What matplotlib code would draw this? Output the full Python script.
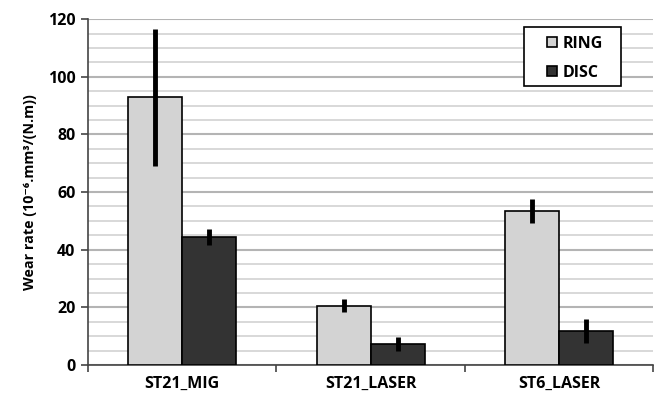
import matplotlib
matplotlib.use("Agg")
import matplotlib.pyplot as plt
import numpy as np
from matplotlib.ticker import MultipleLocator, FixedLocator
from matplotlib.patches import Rectangle

plt.rcParams['font.family'] = ['Open Sans', 'DejaVu Sans']
plt.rcParams['font.weight'] = 'bold'
WT = "bold"

categories = ["ST21_MIG", "ST21_LASER", "ST6_LASER"]
ring = [92.8, 20.6, 53.4]
ring_err = [23.9, 2.3, 4.1]
disc = [44.4, 7.2, 11.9]
disc_err = [2.9, 2.4, 4.2]

fig = plt.figure(figsize=(6.59, 3.98), dpi=100)
ax = fig.add_axes([0.1335, 0.083, 0.858, 0.869])

x = np.arange(len(categories))
w = 0.287
ax.bar(x - w / 2, ring, w, color="#d3d3d3", edgecolor="black", linewidth=1.2, label="RING", zorder=3)
ax.bar(x + w / 2, disc, w, color="#333333", edgecolor="black", linewidth=1.2, label="DISC", zorder=3)
ax.errorbar(x - w / 2, ring, yerr=ring_err, fmt="none", ecolor="black", elinewidth=3.5, capsize=0, zorder=4)
ax.errorbar(x + w / 2, disc, yerr=disc_err, fmt="none", ecolor="black", elinewidth=3.5, capsize=0, zorder=4)

ax.set_xlim(-0.5, 2.5)
ax.set_ylim(0, 120)
ax.yaxis.set_major_locator(MultipleLocator(20))
ax.yaxis.set_minor_locator(MultipleLocator(5))
ax.grid(axis="y", which="major", color="#b4b4b4", linewidth=1.5, zorder=0)
ax.grid(axis="y", which="minor", color="#d6d6d6", linewidth=1.3, zorder=0)
ax.set_axisbelow(True)

ax.set_xticks(x)
ax.set_xticklabels(categories, fontsize=11.5, fontweight=WT)
ax.xaxis.set_minor_locator(FixedLocator([-0.5, 0.5, 1.5, 2.5]))
ax.tick_params(axis="x", which="major", length=0, pad=8)
ax.tick_params(axis="x", which="minor", length=5, width=1.2, color="#444444")
ax.tick_params(axis="y", which="major", length=5, width=1.2, color="#444444", labelsize=11.5, pad=4)
ax.tick_params(axis="y", which="minor", length=0)
for lab in ax.get_yticklabels():
    lab.set_fontweight(WT)

ax.spines["top"].set_visible(False)
ax.spines["right"].set_visible(False)
ax.spines["left"].set_color("#444444")
ax.spines["bottom"].set_color("#444444")
ax.spines["left"].set_linewidth(1.2)
ax.spines["bottom"].set_linewidth(1.2)

ax.set_ylabel("Wear rate (10\u207b\u2076.mm\u00b3/(N.m))", fontsize=10.3, fontweight=WT, labelpad=8)

# legend box drawn separately so it can be wider than its content
ax.add_patch(Rectangle((0.771, 0.807), 0.172, 0.170, transform=ax.transAxes,
                       facecolor="white", edgecolor="black", linewidth=1.2, zorder=5))
leg = ax.legend(loc="upper left", bbox_to_anchor=(0.812, 0.952), frameon=False,
                fontsize=11.5, handlelength=0.6, handleheight=0.6,
                handletextpad=0.35, borderpad=0, labelspacing=0.82, borderaxespad=0)
leg.set_zorder(6)
for t in leg.get_texts():
    t.set_fontweight(WT)

fig.savefig("out.png", dpi=100)
